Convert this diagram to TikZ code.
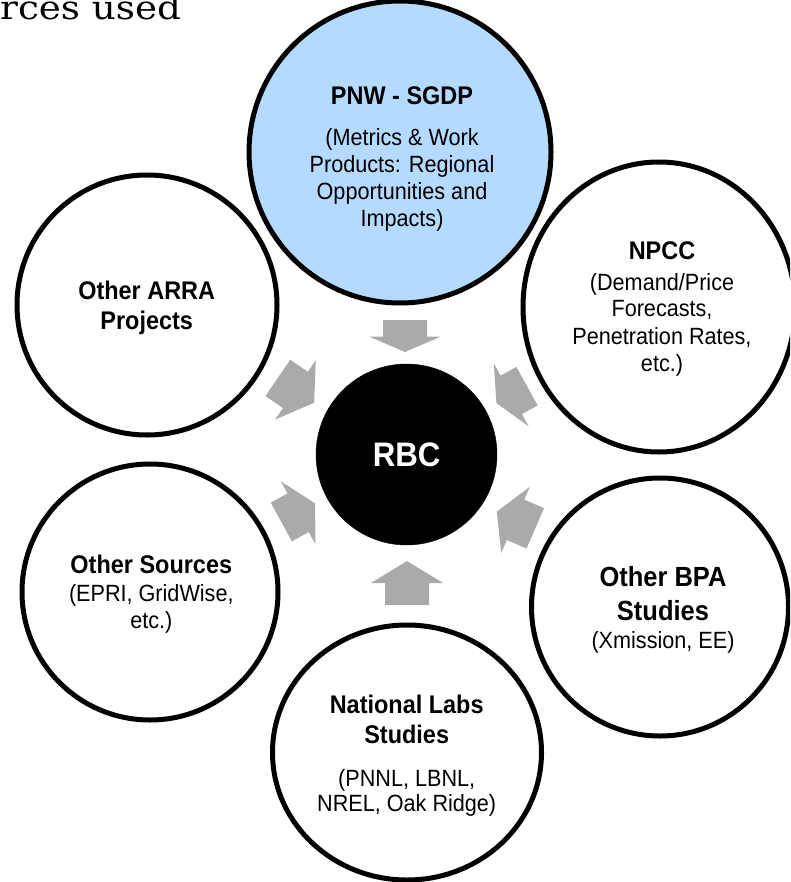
\documentclass[tikz,border=0pt]{standalone}
\usepackage{fontspec}
\setmainfont{Liberation Sans}[FakeStretch=0.92]
\newfontfamily\headserif{DejaVu Serif}[FakeStretch=1.13]
\usetikzlibrary{shapes.geometric}
\definecolor{paleblue}{RGB}{181,218,255}
\definecolor{arrowgrey}{RGB}{170,170,170}
% block arrow centred on a coordinate: #1 centre, #2 direction, #3 length, #4 head length
\newcommand\blockarrow[4]{%
  \fill[arrowgrey, shift={(#1)}, rotate=#2]
    ({-#3/2},22) -- ({#3/2-#4},22) -- ({#3/2-#4},36) -- ({#3/2},0)
    -- ({#3/2-#4},-36) -- ({#3/2-#4},-22) -- ({-#3/2},-22) -- cycle;}
\begin{document}
\begin{tikzpicture}[x=1pt, y=-1pt,
  ring/.style={ellipse, draw=black, line width=5pt, fill=white, inner sep=0pt},
  head/.style={anchor=base, font=\bfseries\fontsize{25.5}{30}\selectfont},
  bighead/.style={anchor=base, font=\bfseries\fontsize{27.7}{32}\selectfont},
  body/.style={anchor=base, font=\fontsize{23.5}{28}\selectfont}]
\useasboundingbox (0,0) rectangle (790,882);
\clip (0,0) rectangle (790,882);

% heading remnant
\node[anchor=base west, inner sep=0pt, font=\headserif\fontsize{33}{38}\selectfont] (heading) at (0,20) {rces used};

% source circles
\node[ring, fill=paleblue, minimum width=302pt, minimum height=302pt] (pnw) at (400,152) {};
\node[ring, minimum width=272pt, minimum height=290pt] (npcc) at (659,307) {};
\node[ring, minimum width=260pt, minimum height=260pt] (arra) at (147,305) {};
\node[ring, minimum width=256pt, minimum height=256pt] (sources) at (150,592) {};
\node[ring, minimum width=257pt, minimum height=258pt] (bpa) at (660,607) {};
\node[ring, minimum width=269pt, minimum height=255pt] (labs) at (407,752.5) {};
\node[circle, fill=black, draw=black, inner sep=0pt, minimum size=181pt] (rbc) at (406.5,454.5) {};

% texts
\node[head] (pnwT) at (402,105) {PNW - SGDP};
\node[body] (pnw1) at (402,146) {(Metrics \& Work};
\node[body] (pnw2) at (402,172.7) {Products: Regional};
\node[body] (pnw3) at (402,199.3) {Opportunities and};
\node[body] (pnw4) at (402,226.7) {Impacts)};

\node[head] (npccT) at (662,260) {NPCC};
\node[body] (npcc1) at (662,290) {(Demand/Price};
\node[body] (npcc2) at (662,316.7) {Forecasts,};
\node[body] (npcc3) at (662,344) {Penetration Rates,};
\node[body] (npcc4) at (662,371.7) {etc.)};

\node[head] (arraT) at (146.7,299.3) {Other ARRA};
\node[head] (arra2) at (146.7,329.3) {Projects};

\node[head] (sourcesT) at (151.3,573.3) {Other Sources};
\node[body] (sources1) at (151.3,601.7) {(EPRI, GridWise,};
\node[body] (sources2) at (151.3,628.3) {etc.)};

\node[bighead] (bpaT) at (663,586.7) {Other BPA};
\node[bighead] (bpa2) at (663,620) {Studies};
\node[body] (bpa3) at (663,648.3) {(Xmission, EE)};

\node[head] (labsT) at (406.7,713.3) {National Labs};
\node[head] (labs2) at (406.7,743.3) {Studies};
\node[body] (labs3) at (406.7,786) {(PNNL, LBNL,};
\node[body] (labs4) at (406.7,811.7) {NREL, Oak Ridge)};

\node[anchor=base, text=white, font=\bfseries\fontsize{34}{38}\selectfont] (rbcT) at (406.7,466) {RBC};

% inflow arrows towards RBC
\coordinate (aTop) at (405,336);
\coordinate (aUR) at (511.7,394.6);
\coordinate (aLR) at (516,520);
\coordinate (aBot) at (407,583);
\coordinate (aLL) at (298.2,512.7);
\coordinate (aUL) at (296,390.3);
\blockarrow{aTop}{-90}{32}{15.5}
\blockarrow{aUR}{209}{35}{17}
\blockarrow{aLR}{156.6}{42}{20.5}
\blockarrow{aBot}{90}{44}{22}
\blockarrow{aLL}{28.8}{38.6}{19.4}
\blockarrow{aUL}{-34.4}{44}{22.7}
\end{tikzpicture}
\end{document}
